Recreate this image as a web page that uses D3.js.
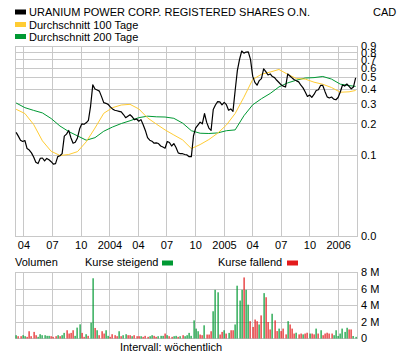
<!DOCTYPE html>
<html><head><meta charset="utf-8">
<script src="https://cdn.jsdelivr.net/npm/d3@7/dist/d3.min.js"></script>
<style>
body{margin:0;background:#fff}
text{font-family:"Liberation Sans",Arial,Helvetica,sans-serif;font-size:11px;fill:#000}
</style>
</head><body>
<svg id="c" width="400" height="357"></svg>
<script>
// ---------- DATA ----------
const title = "URANIUM POWER CORP. REGISTERED SHARES O.N.";
const currency = "CAD";
const seriesNames = ["Durchschnitt 100 Tage", "Durchschnitt 200 Tage"];
const firstWeek = "2003-03-07";           // weekly closes, one per week
const price = [
 .167,.154,.141,.137,.140,.117,.113,.106,.096,.085,
 .082,.093,.094,.0875,.093,.090,.086,.081,.082,.097,
 .099,.104,.154,.161,.174,.149,.132,.135,.148,.180,
 .200,.198,.204,.215,.287,.435,.401,.394,.385,.346,
 .307,.303,.297,.282,.271,.264,.261,.258,.255,.242,
 .227,.234,.241,.231,.218,.221,.211,.218,.196,.174,
 .149,.141,.138,.132,.133,.131,.124,.121,.118,.137,
 .134,.124,.131,.120,.106,.104,.104,.102,.101,.097,
 .097,.156,.184,.195,.207,.200,.247,.206,.183,.174,
 .268,.293,.313,.312,.294,.309,.295,.264,.271,.258,
 .390,.571,.706,.827,.795,.811,.814,.706,.514,.456,
 .432,.472,.490,.592,.560,.526,.536,.510,.500,.475,
 .455,.435,.424,.417,.536,.516,.497,.480,.470,.461,
 .432,.410,.379,.347,.357,.341,.361,.390,.396,.430,
 .430,.383,.344,.337,.343,.329,.325,.340,.379,.434,
 .425,.442,.422,.403,.417,.497];
// moving averages, read at these week numbers
const maWeek = [0,4,8,12,16,20,24,28,32,36,40,44,48,52,56,60,64,68,72,76,80,84,88,92,96,100,104,108,112,116,120,124,128,132,136,140,144,148,152,155];
const ma100 = [.269,.247,.197,.139,.110,.0998,.102,.109,.136,.183,.248,.278,.293,.297,.271,.226,.199,.176,.158,.142,.117,.128,.143,.164,.195,.247,.342,.482,.533,.556,.584,.532,.491,.486,.458,.440,.413,.377,.380,.390];
const ma200 = [.305,.278,.263,.250,.223,.191,.170,.155,.141,.149,.171,.187,.201,.213,.227,.234,.231,.230,.224,.203,.173,.164,.163,.165,.173,.176,.236,.294,.332,.368,.418,.452,.476,.496,.500,.511,.486,.441,.429,.422];
// weekly volume in millions, and whether the week closed up (1) or down (0)
const volume = [
 0.4,0.28,0.28,0.4,0.28,0.2,0.88,0.28,0.8,0.4,
 0.2,0.52,0.4,0.4,0.32,0.32,0.28,0.2,0.28,0.4,
 0.28,0.4,0.68,1.0,0.6,0.68,1.0,0.32,1.32,1.72,
 0.68,0.2,0.52,0.32,1.92,7.3,1.28,1.0,0.4,0.88,
 0.6,1.0,0.32,0.2,0.52,0.4,0.28,0.88,0.28,0.4,
 0.52,0.4,0.4,0.28,0.4,0.28,0.28,0.28,0.2,0.32,
 0.2,0.28,0.4,0.32,0.2,0.28,0.32,0.32,0.6,0.4,
 0.28,0.2,0.28,0.32,0.2,0.28,0.4,0.28,0.4,0.68,
 0.32,2.2,1.2,0.88,0.48,0.4,1.6,0.48,0.48,0.88,
 3.3,5.9,5.6,0.48,0.8,1.0,0.6,0.68,1.0,1.0,
 1.7,6.4,4.6,5.9,7.4,5.9,4.1,2.1,1.4,2.3,
 2.1,1.7,2.8,5.5,5.0,2.0,1.1,3.0,2.2,0.9,
 1.2,0.9,1.2,0.5,2.1,1.7,1.2,0.6,0.7,0.5,
 0.6,0.5,0.6,0.7,0.6,0.6,0.5,1.2,0.6,1.0,
 0.4,0.6,0.7,0.6,0.6,0.4,1.0,0.3,0.6,1.2,
 0.8,1.3,1.1,1.1,0.3,0.2];
const upWeek = [
 1,0,0,1,1,0,0,0,0,0, 1,1,1,1,1,1,0,0,0,1, 0,1,1,0,0,0,0,1,1,1,
 0,0,1,0,1,1,0,1,0,0, 0,1,1,0,0,0,0,1,0,1, 1,0,0,1,0,0,0,1,0,0,
 0,1,1,0,0,1,1,1,0,1, 0,0,1,1,0,1,0,1,1,1, 1,1,1,1,0,0,1,0,0,0,
 1,1,1,0,0,1,0,1,0,0, 1,1,1,1,0,1,1,0,0,0, 0,1,0,1,0,0,0,1,0,0,
 1,0,0,0,1,0,0,0,1,0, 0,1,0,0,1,0,0,1,0,1, 0,0,0,0,0,1,1,1,1,1,
 1,1,0,0,1,1];
const xTickDates = ["2003-04-01","2003-07-01","2003-10-01","2004-01-01","2004-04-01","2004-07-01","2004-10-01","2005-01-01","2005-04-01","2005-07-01","2005-10-01","2006-01-01"];
const xTickLabels = ["04","07","10","2004","04","07","10","2005","04","07","10","2006"];
const priceTicks = [0,0.1,0.2,0.3,0.4,0.5,0.6,0.7,0.8,0.9];
const volTicks = [0,2,4,6,8];

// ---------- STYLE ----------
const C = {grid:"#c8c8c8", price:"#000", ma100:"#ffcc33", ma200:"#009933", up:"#009933", down:"#e31a1c"};
const svg = d3.select("#c");
const parse = d3.utcParse("%Y-%m-%d");
const start = parse(firstWeek);
const weekDate = i => d3.utcDay.offset(start, 7*i);

const L = 15.5, R = 357.5;
const x = d3.scaleUtc().domain([parse("2003-03-05"), parse("2006-03-02")]).range([L, R]);
const y = d3.scaleSymlog().constant(0.03).domain([0, 0.9]).range([236.5, 46.5]);
const yv = d3.scaleLinear().domain([0, 8]).range([338.5, 272.5]);
const snap = v => Math.round(v - 0.5) + 0.5;

// grids
function grid(g, yScale, ticks, top, bottom){
  g.selectAll("line.h").data(ticks).join("line")
    .attr("x1", L).attr("x2", R)
    .attr("y1", d => snap(yScale(d))).attr("y2", d => snap(yScale(d)))
    .attr("stroke", C.grid);
  g.selectAll("line.v").data(xTickDates).join("line").attr("class","v")
    .attr("x1", d => snap(x(parse(d)))).attr("x2", d => snap(x(parse(d))))
    .attr("y1", top).attr("y2", bottom).attr("stroke", C.grid);
  g.append("rect").attr("x", L).attr("y", top).attr("width", R-L).attr("height", bottom-top)
    .attr("fill","none").attr("stroke", C.grid);
}
grid(svg.append("g"), y, priceTicks, 46.5, 236.5);
grid(svg.append("g"), yv, volTicks, 272.5, 338.5);

// right axis labels
svg.append("g").selectAll("text").data(priceTicks).join("text")
  .attr("x", 361).attr("y", d => y(d)).attr("dy","0.35em").text(d => d3.format(".1f")(d));
svg.append("g").selectAll("text").data(volTicks).join("text")
  .attr("x", 361).attr("y", d => yv(d)).attr("dy","0.35em").text(d => d === 0 ? "0" : d + " M");

// x labels
svg.append("g").selectAll("text").data(xTickDates).join("text")
  .attr("x", (d) => x(parse(d))).attr("y", 248.5).attr("text-anchor","middle")
  .text((d,i) => xTickLabels[i]);

// volume bars
svg.append("g").selectAll("rect").data(volume).join("rect")
  .attr("x", (d,i) => Math.round(x(weekDate(i))) - 0.5)
  .attr("width", 1.2)
  .attr("y", d => yv(d)).attr("height", d => yv(0) - yv(d))
  .attr("fill", (d,i) => upWeek[i] ? C.up : C.down);

// lines
const maLine = d3.line().x((d,i) => x(weekDate(maWeek[i]))).y(d => y(d));
svg.append("path").attr("d", maLine(ma200)).attr("fill","none").attr("stroke", C.ma200).attr("stroke-width",1);
svg.append("path").attr("d", maLine(ma100)).attr("fill","none").attr("stroke", C.ma100).attr("stroke-width",1);
const pLine = d3.line().x((d,i) => x(weekDate(i))).y(d => y(d));
svg.append("path").attr("d", pLine(price)).attr("fill","none").attr("stroke", C.price).attr("stroke-width",1.2).attr("stroke-linejoin","round");

// legend
const leg = [{t:title, c:C.price, yy:16}, {t:seriesNames[0], c:C.ma100, yy:28.5}, {t:seriesNames[1], c:C.ma200, yy:40.5}];
leg.forEach(l => {
  svg.append("rect").attr("x",15).attr("y",l.yy-6.5).attr("width",11).attr("height",5).attr("fill",l.c);
  svg.append("text").attr("x",29).attr("y",l.yy).text(l.t);
});
svg.append("text").attr("x",373).attr("y",16).text(currency);

// volume legend
svg.append("text").attr("x",15).attr("y",266).text("Volumen");
svg.append("text").attr("x",85).attr("y",266).text("Kurse steigend");
svg.append("rect").attr("x",162).attr("y",260.5).attr("width",11).attr("height",5).attr("fill",C.up);
svg.append("text").attr("x",218).attr("y",266).text("Kurse fallend");
svg.append("rect").attr("x",287).attr("y",260.5).attr("width",11).attr("height",5).attr("fill",C.down);
svg.append("text").attr("x",171).attr("y",350.5).attr("text-anchor","middle").text("Intervall: wöchentlich");
</script>
</body></html>
